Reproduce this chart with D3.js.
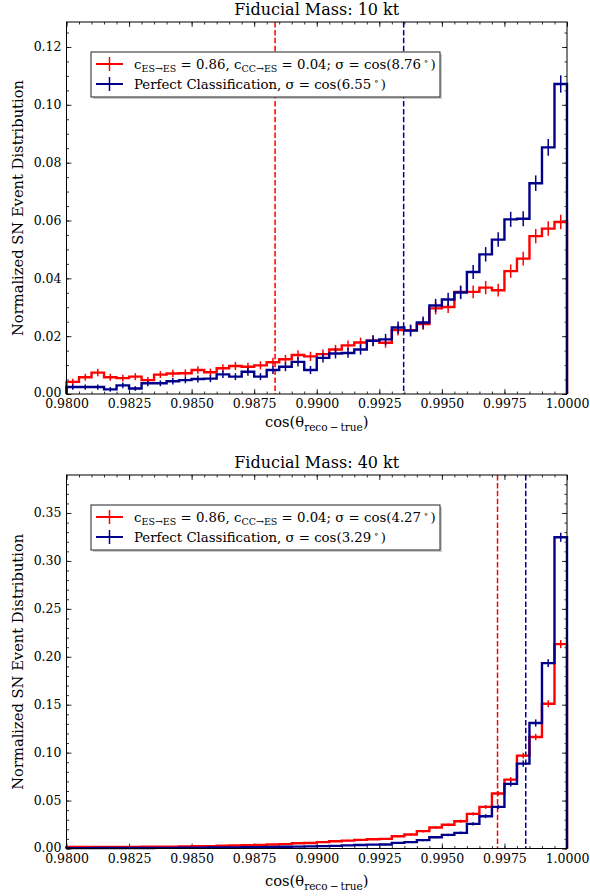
<!DOCTYPE html>
<meta charset="utf-8">
<title>SN pointing resolution</title>
<style>

body {
  margin: 0;
  background: #fff;
}

text {
  font-family: "DejaVu Serif", serif;
  fill: #000;
}

.axis path.domain {
  display: none;
}

.axis line {
  stroke: #000;
  stroke-width: 0.8px;
}

</style>
<body>
  <script src="https://d3js.org/d3.v7.min.js"></script>
  <script>

  const width = 590; /* page size */
  const height = 896;

  // bins: 40 bins of 0.0005 in cos(theta), from 0.98 to 1.0
  const binStart = 0.98;
  const binWidth = 0.0005;
  const xTicks = [0.98, 0.9825, 0.985, 0.9875, 0.99, 0.9925, 0.995, 0.9975, 1.0];

  // 10 kt
  const red10 = [0.0042, 0.0058, 0.0074, 0.0058, 0.0055, 0.0060, 0.0048, 0.0067, 0.0071, 0.0072,
                 0.0083, 0.0075, 0.0089, 0.0097, 0.0094, 0.0099, 0.0110, 0.0120, 0.0135, 0.0130,
                 0.0138, 0.0154, 0.0168, 0.0178, 0.0184, 0.0177, 0.0221, 0.0221, 0.0242, 0.0296,
                 0.0301, 0.0353, 0.0353, 0.0368, 0.0359, 0.0425, 0.0468, 0.0546, 0.0572, 0.0595];
  const red10Err = [0.0011, 0.0012, 0.0013, 0.0012, 0.0012, 0.0012, 0.0011, 0.0012, 0.0013, 0.0013,
                    0.0013, 0.0013, 0.0014, 0.0014, 0.0014, 0.0014, 0.0015, 0.0015, 0.0016, 0.0016,
                    0.0016, 0.0016, 0.0017, 0.0017, 0.0018, 0.0017, 0.0019, 0.0019, 0.0020, 0.0021,
                    0.0021, 0.0022, 0.0022, 0.0023, 0.0022, 0.0023, 0.0024, 0.0025, 0.0025, 0.0025];
  const blue10 = [0.0024, 0.0024, 0.0024, 0.0016, 0.0030, 0.0019, 0.0037, 0.0037, 0.0044, 0.0048,
                  0.0052, 0.0053, 0.0068, 0.0060, 0.0077, 0.0060, 0.0083, 0.0094, 0.0111, 0.0083,
                  0.0125, 0.0140, 0.0142, 0.0154, 0.0184, 0.0189, 0.0230, 0.0219, 0.0247, 0.0306,
                  0.0327, 0.0351, 0.0422, 0.0483, 0.0534, 0.0604, 0.0606, 0.0729, 0.0853, 0.1072];
  const blue10Err = [0.0009, 0.0009, 0.0009, 0.0008, 0.0010, 0.0008, 0.0010, 0.0010, 0.0011, 0.0011,
                     0.0012, 0.0012, 0.0013, 0.0012, 0.0014, 0.0012, 0.0014, 0.0015, 0.0016, 0.0014,
                     0.0016, 0.0017, 0.0017, 0.0018, 0.0019, 0.0019, 0.0021, 0.0020, 0.0021, 0.0023,
                     0.0023, 0.0023, 0.0024, 0.0025, 0.0025, 0.0026, 0.0026, 0.0027, 0.0029, 0.0030];

  // 40 kt
  const red40 = [0.0015, 0.0016, 0.0016, 0.0017, 0.0017, 0.0016, 0.0018, 0.0019, 0.0020, 0.0022,
                 0.0024, 0.0025, 0.0028, 0.0031, 0.0035, 0.0038, 0.0042, 0.0046, 0.0055, 0.0058,
                 0.0066, 0.0075, 0.0082, 0.0090, 0.0096, 0.0100, 0.0128, 0.0146, 0.0181, 0.0219,
                 0.0247, 0.0285, 0.0361, 0.0434, 0.0573, 0.0719, 0.0969, 0.1163, 0.1510, 0.2132];
  const red40Err = [0.0004, 0.0004, 0.0004, 0.0004, 0.0004, 0.0004, 0.0004, 0.0004, 0.0005, 0.0005,
                    0.0005, 0.0005, 0.0005, 0.0006, 0.0006, 0.0006, 0.0006, 0.0007, 0.0007, 0.0008,
                    0.0008, 0.0009, 0.0009, 0.0009, 0.0010, 0.0010, 0.0011, 0.0012, 0.0013, 0.0014,
                    0.0015, 0.0016, 0.0018, 0.0020, 0.0023, 0.0026, 0.0030, 0.0033, 0.0037, 0.0042];
  const blue40 = [0.0004, 0.0004, 0.0005, 0.0005, 0.0005, 0.0006, 0.0006, 0.0007, 0.0007, 0.0008,
                  0.0009, 0.0010, 0.0011, 0.0012, 0.0013, 0.0014, 0.0016, 0.0018, 0.0020, 0.0022,
                  0.0025, 0.0027, 0.0033, 0.0036, 0.0040, 0.0042, 0.0059, 0.0066, 0.0087, 0.0118,
                  0.0142, 0.0163, 0.0257, 0.0337, 0.0434, 0.0674, 0.0885, 0.1309, 0.1934, 0.3247];
  const blue40Err = [0.0002, 0.0002, 0.0002, 0.0002, 0.0002, 0.0003, 0.0003, 0.0003, 0.0003, 0.0003,
                     0.0003, 0.0003, 0.0004, 0.0004, 0.0004, 0.0004, 0.0004, 0.0005, 0.0005, 0.0005,
                     0.0006, 0.0006, 0.0006, 0.0007, 0.0007, 0.0007, 0.0009, 0.0009, 0.0011, 0.0012,
                     0.0013, 0.0014, 0.0018, 0.0020, 0.0023, 0.0028, 0.0032, 0.0038, 0.0040, 0.0047];

  // resolution angles (degrees) for the dashed lines / legend
  const sigma10 = {red: 8.76, blue: 6.55};
  const sigma40 = {red: 4.27, blue: 3.29};

  const red = "#ff0000";
  const blue = "#00008b";

  const svg = d3.select("body").append("svg")
      .attr("width", width)
      .attr("height", height);

  const margin = {left: 66.5, right: 23};
  const w = width - margin.left - margin.right;

  const panels = [
    {title: "Fiducial Mass: 10 kt", top: 22, bottom: 394, red: red10, redErr: red10Err,
     blue: blue10, blueErr: blue10Err, sigma: sigma10, yStep: 0.02, yMinor: 0.005, xlabY: 427},
    {title: "Fiducial Mass: 40 kt", top: 475, bottom: 848.5, red: red40, redErr: red40Err,
     blue: blue40, blueErr: blue40Err, sigma: sigma40, yStep: 0.05, yMinor: 0.01, xlabY: 886}
  ];

  const x = d3.scaleLinear().domain([0.98, 1.0]).range([0, w]);

  const drawPanel = p => {
    const h = p.bottom - p.top;
    const g = svg.append("g").attr("transform", "translate(" + margin.left + "," + p.top + ")");
    const ymax = 1.2 * d3.max(p.blue);
    const y = d3.scaleLinear().domain([0, ymax]).range([h, 0]);
    const yTicks = d3.range(0, ymax, p.yStep);
    const yMinorTicks = d3.range(0, ymax, p.yMinor);
    const xMinorTicks = d3.range(0, 41).map(i => binStart + i * binWidth);

    // ticks, pointing in, on all four sides
    g.append("g").attr("class", "axis").attr("transform", "translate(0," + h + ")")
        .call(d3.axisBottom(x).tickValues(xTicks).tickSize(-5).tickPadding(5.5).tickFormat(d3.format(".4f")))
        .selectAll("text").style("font-size", "12.5px").style("font-family", "DejaVu Serif");
    g.append("g").attr("class", "axis").attr("transform", "translate(0," + h + ")")
        .call(d3.axisBottom(x).tickValues(xMinorTicks).tickSize(-2.5).tickFormat(""));
    g.append("g").attr("class", "axis")
        .call(d3.axisTop(x).tickValues(xTicks).tickSize(-5).tickFormat(""));
    g.append("g").attr("class", "axis")
        .call(d3.axisTop(x).tickValues(xMinorTicks).tickSize(-2.5).tickFormat(""));
    g.append("g").attr("class", "axis")
        .call(d3.axisLeft(y).tickValues(yTicks).tickSize(-5).tickPadding(5).tickFormat(d3.format(".2f")))
        .selectAll("text").style("font-size", "12.5px").style("font-family", "DejaVu Serif")
        .attr("dy", (d, i) => i === 0 ? "0.2em" : "0.32em");
    g.append("g").attr("class", "axis")
        .call(d3.axisLeft(y).tickValues(yMinorTicks).tickSize(-2.5).tickFormat(""));
    g.append("g").attr("class", "axis").attr("transform", "translate(" + w + ",0)")
        .call(d3.axisRight(y).tickValues(yTicks).tickSize(-5).tickFormat(""));
    g.append("g").attr("class", "axis").attr("transform", "translate(" + w + ",0)")
        .call(d3.axisRight(y).tickValues(yMinorTicks).tickSize(-2.5).tickFormat(""));

    // dashed resolution lines
    [["red", red], ["blue", blue]].forEach(([k, c]) => {
      const xv = x(Math.cos(p.sigma[k] * Math.PI / 180));
      g.append("line")
          .attr("x1", xv).attr("x2", xv).attr("y1", 0).attr("y2", h)
          .attr("stroke", c).attr("stroke-width", 1.5)
          .attr("stroke-dasharray", "5.5,2.4");
    });

    // step histograms with error bars
    const step = d3.line().x(d => x(d[0])).y(d => y(d[1])).curve(d3.curveStepAfter);
    [[p.red, p.redErr, red], [p.blue, p.blueErr, blue]].forEach(([vals, errs, c]) => {
      const pts = [[binStart, 0]];
      vals.forEach((v, i) => pts.push([binStart + i * binWidth, v]));
      pts.push([binStart + vals.length * binWidth, vals[vals.length - 1]]);
      pts.push([binStart + vals.length * binWidth, 0]);
      g.append("path")
          .attr("d", step(pts))
          .attr("fill", "none")
          .attr("stroke", c)
          .attr("stroke-width", 2.4);
      g.append("g").selectAll("line")
          .data(vals)
        .enter().append("line")
          .attr("x1", (d, i) => x(binStart + (i + 0.5) * binWidth))
          .attr("x2", (d, i) => x(binStart + (i + 0.5) * binWidth))
          .attr("y1", (d, i) => y(d - errs[i]))
          .attr("y2", (d, i) => y(d + errs[i]))
          .attr("stroke", c)
          .attr("stroke-width", 1.5);
    });

    // frame
    g.append("rect")
        .attr("width", w).attr("height", h)
        .attr("fill", "none").attr("stroke", "#000").attr("stroke-width", 1);

    // title and axis labels
    svg.append("text")
        .attr("x", margin.left + w / 2).attr("y", p.top - 7)
        .attr("text-anchor", "middle")
        .style("font-size", "16px")
        .text(p.title);

    const xl = svg.append("text")
        .attr("x", margin.left + w / 2).attr("y", p.xlabY)
        .attr("text-anchor", "middle")
        .style("font-size", "14.7px");
    xl.append("tspan").text("cos(θ");
    xl.append("tspan").attr("dy", 3.5).style("font-size", "10.5px").text("reco\u2009\u2212\u2009true");
    xl.append("tspan").attr("dy", -3.5).text(")");

    svg.append("text")
        .attr("transform", "translate(23," + (p.top + h / 2) + ")rotate(-90)")
        .attr("text-anchor", "middle")
        .style("font-size", "14.7px")
        .text("Normalized SN Event Distribution");

    // legend
    const lg = svg.append("g").attr("transform", "translate(91," + (p.top + 30) + ")");
    lg.append("rect")
        .attr("x", 2).attr("y", 2).attr("width", 349).attr("height", 45)
        .attr("fill", "#999").attr("opacity", 0.5);
    lg.append("rect")
        .attr("width", 349).attr("height", 45)
        .attr("fill", "#fff").attr("stroke", "#222").attr("stroke-width", 1);
    [[red, 12], [blue, 32]].forEach(([c, yy]) => {
      lg.append("line").attr("x1", 5).attr("x2", 32).attr("y1", yy).attr("y2", yy)
          .attr("stroke", c).attr("stroke-width", 2);
      lg.append("line").attr("x1", 18.5).attr("x2", 18.5).attr("y1", yy - 7).attr("y2", yy + 7)
          .attr("stroke", c).attr("stroke-width", 1.5);
    });
    const t1 = lg.append("text").attr("x", 43).attr("y", 16.5).style("font-size", "13.3px");
    t1.append("tspan").text("c");
    t1.append("tspan").attr("dy", 3).style("font-size", "9.5px").text("ES\u2192ES");
    t1.append("tspan").attr("dy", -3).text(" = 0.86, c");
    t1.append("tspan").attr("dy", 3).style("font-size", "9.5px").text("CC\u2192ES");
    t1.append("tspan").attr("dy", -3).text(" = 0.04; σ = cos(" + p.sigma.red.toFixed(2) + "\u2009");
    t1.append("tspan").attr("dy", -5).style("font-size", "8.5px").text("\u2218");
    t1.append("tspan").attr("dy", 5).text("\u2009)");
    const t2 = lg.append("text").attr("x", 43).attr("y", 36.5).style("font-size", "13.3px");
    t2.append("tspan").text("Perfect Classification, σ = cos(" + p.sigma.blue.toFixed(2) + "\u2009");
    t2.append("tspan").attr("dy", -5).style("font-size", "8.5px").text("\u2218");
    t2.append("tspan").attr("dy", 5).text("\u2009)");
  };

  panels.forEach(drawPanel);

  </script>
</body>
